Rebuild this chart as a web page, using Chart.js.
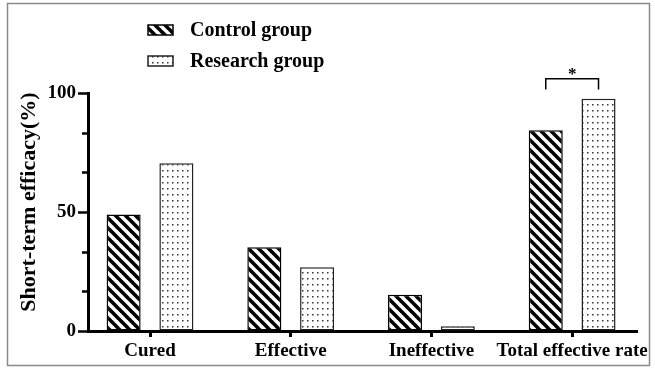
<!DOCTYPE html>
<html>
<head>
<meta charset="utf-8">
<script src="https://cdn.jsdelivr.net/npm/chart.js@4.4.1/dist/chart.umd.min.js"></script>
<style>
  html, body { margin: 0; padding: 0; background: #fff; }
  #wrap { width: 655px; height: 368px; position: relative; }
</style>
</head>
<body>
<div id="wrap"><canvas id="c" width="655" height="368"></canvas></div>
<script>
// Short-term efficacy by outcome, two groups (%)
const categories = ['Cured', 'Effective', 'Ineffective', 'Total effective rate'];
const controlGroup = [49.0, 35.2, 15.2, 84.4];
const researchGroup = [70.5, 26.8, 2.0, 97.6];
const yTicks = [0, 50, 100];
const seriesNames = ['Control group', 'Research group'];

const SERIF = '"Liberation Serif", "Times New Roman", serif';

// Diagonal hatch fill for the control bars
function hatchPattern() {
  const s = 10;
  const t = document.createElement('canvas');
  t.width = s; t.height = s;
  const g = t.getContext('2d');
  g.fillStyle = '#fff';
  g.fillRect(0, 0, s, s);
  g.strokeStyle = '#000';
  g.lineWidth = 3.6;
  for (const o of [-s, 0, s]) {
    g.beginPath();
    g.moveTo(o - 1, -1);
    g.lineTo(o + s + 1, s + 1);
    g.stroke();
  }
  return g.createPattern(t, 'repeat');
}

// Fine dot fill for the research bars
function dotPattern() {
  const t = document.createElement('canvas');
  t.width = 5; t.height = 6;
  const g = t.getContext('2d');
  g.fillStyle = '#fff';
  g.fillRect(0, 0, 5, 6);
  g.fillStyle = '#333';
  g.fillRect(2, 2, 1.5, 1.5);
  return g.createPattern(t, 'repeat');
}

const ctx0 = document.getElementById('c').getContext('2d');
const fills = [hatchPattern(), dotPattern()];

// Frame, minor y ticks, legend, y title and the significance bracket
const decorations = {
  id: 'decorations',
  afterDraw(chart) {
    const ctx = chart.ctx;
    const x = chart.scales.x;
    const y = chart.scales.y;
    ctx.save();

    // outer frame
    ctx.strokeStyle = '#8a8a8a';
    ctx.lineWidth = 1.5;
    ctx.strokeRect(7.5, 3.5, 642, 362);

    // minor ticks on the y axis
    ctx.strokeStyle = '#000';
    ctx.lineWidth = 2.5;
    for (const v of [50 / 3, 100 / 3, 200 / 3, 250 / 3]) {
      const py = Math.round(y.getPixelForValue(v)) + 0.5;
      ctx.beginPath();
      ctx.moveTo(x.left - 6, py);
      ctx.lineTo(x.left, py);
      ctx.stroke();
    }

    // legend
    const rows = [30, 61];
    chart.data.datasets.forEach((ds, i) => {
      const cy = rows[i];
      ctx.fillStyle = ds.backgroundColor;
      ctx.fillRect(148, cy - 5, 25, 10);
      ctx.strokeStyle = ds.borderColor;
      ctx.lineWidth = 1.5;
      ctx.strokeRect(148, cy - 5, 25, 10);
      ctx.fillStyle = '#000';
      ctx.font = 'bold 20px ' + SERIF;
      ctx.textAlign = 'left';
      ctx.textBaseline = 'middle';
      ctx.fillText(ds.label, 190, cy + 1);
    });

    // y axis title
    ctx.save();
    ctx.translate(29, 202);
    ctx.rotate(-Math.PI / 2);
    ctx.font = 'bold 22px ' + SERIF;
    ctx.textAlign = 'center';
    ctx.textBaseline = 'middle';
    ctx.fillStyle = '#000';
    ctx.fillText('Short-term efficacy(%)', 0, 0);
    ctx.restore();

    // significance bracket over the last group
    const m0 = chart.getDatasetMeta(0).data[3];
    const m1 = chart.getDatasetMeta(1).data[3];
    const top = y.getPixelForValue(106);
    const leg = y.getPixelForValue(101.5);
    ctx.strokeStyle = '#000';
    ctx.lineWidth = 1.5;
    ctx.beginPath();
    ctx.moveTo(m0.x, leg);
    ctx.lineTo(m0.x, top);
    ctx.lineTo(m1.x, top);
    ctx.lineTo(m1.x, leg);
    ctx.stroke();
    ctx.fillStyle = '#000';
    ctx.font = 'bold 17px ' + SERIF;
    ctx.textAlign = 'center';
    ctx.textBaseline = 'alphabetic';
    ctx.fillText('*', (m0.x + m1.x) / 2, top - 0);

    ctx.restore();
  }
};

new Chart(ctx0, {
  type: 'bar',
  data: {
    datasets: [
      {
        label: seriesNames[0],
        data: categories.map((c, i) => ({ x: i, y: controlGroup[i] })),
        backgroundColor: fills[0],
        borderColor: '#000',
        borderWidth: 1.5,
        borderSkipped: false
      },
      {
        label: seriesNames[1],
        data: categories.map((c, i) => ({ x: i, y: researchGroup[i] })),
        backgroundColor: fills[1],
        borderColor: '#222',
        borderWidth: 1.5,
        borderSkipped: false
      }
    ]
  },
  options: {
    responsive: false,
    animation: false,
    categoryPercentage: 0.75,
    barPercentage: 0.645,
    layout: { padding: { top: 93, right: 18, bottom: 0, left: 0 } },
    plugins: {
      legend: { display: false },
      tooltip: { enabled: false }
    },
    scales: {
      x: {
        type: 'linear',
        offset: false,
        min: -0.4407,
        max: 3.461,
        afterBuildTicks(scale) {
          scale.ticks = categories.map((c, i) => ({ value: i }));
        },
        afterFit(scale) { scale.height = 37; },
        border: { display: true, color: '#000', width: 3 },
        grid: {
          display: true,
          offset: false,
          drawOnChartArea: false,
          drawTicks: true,
          tickLength: 6,
          tickWidth: 3,
          tickColor: '#000'
        },
        ticks: {
          color: '#000',
          padding: 3,
          maxRotation: 0,
          autoSkip: false,
          font: { family: SERIF, size: 19, weight: 'bold' },
          callback: (v) => categories[v]
        }
      },
      y: {
        min: 0,
        max: 100,
        afterBuildTicks(scale) {
          scale.ticks = yTicks.map(v => ({ value: v }));
        },
        afterFit(scale) { scale.width = 88; },
        border: { display: true, color: '#000', width: 3 },
        grid: {
          display: true,
          drawOnChartArea: false,
          drawTicks: true,
          tickLength: 10,
          tickWidth: 2.5,
          tickColor: '#000'
        },
        ticks: {
          color: '#000',
          padding: 2,
          font: { family: SERIF, size: 19, weight: 'bold' }
        }
      }
    }
  },
  plugins: [decorations]
});
</script>
</body>
</html>
